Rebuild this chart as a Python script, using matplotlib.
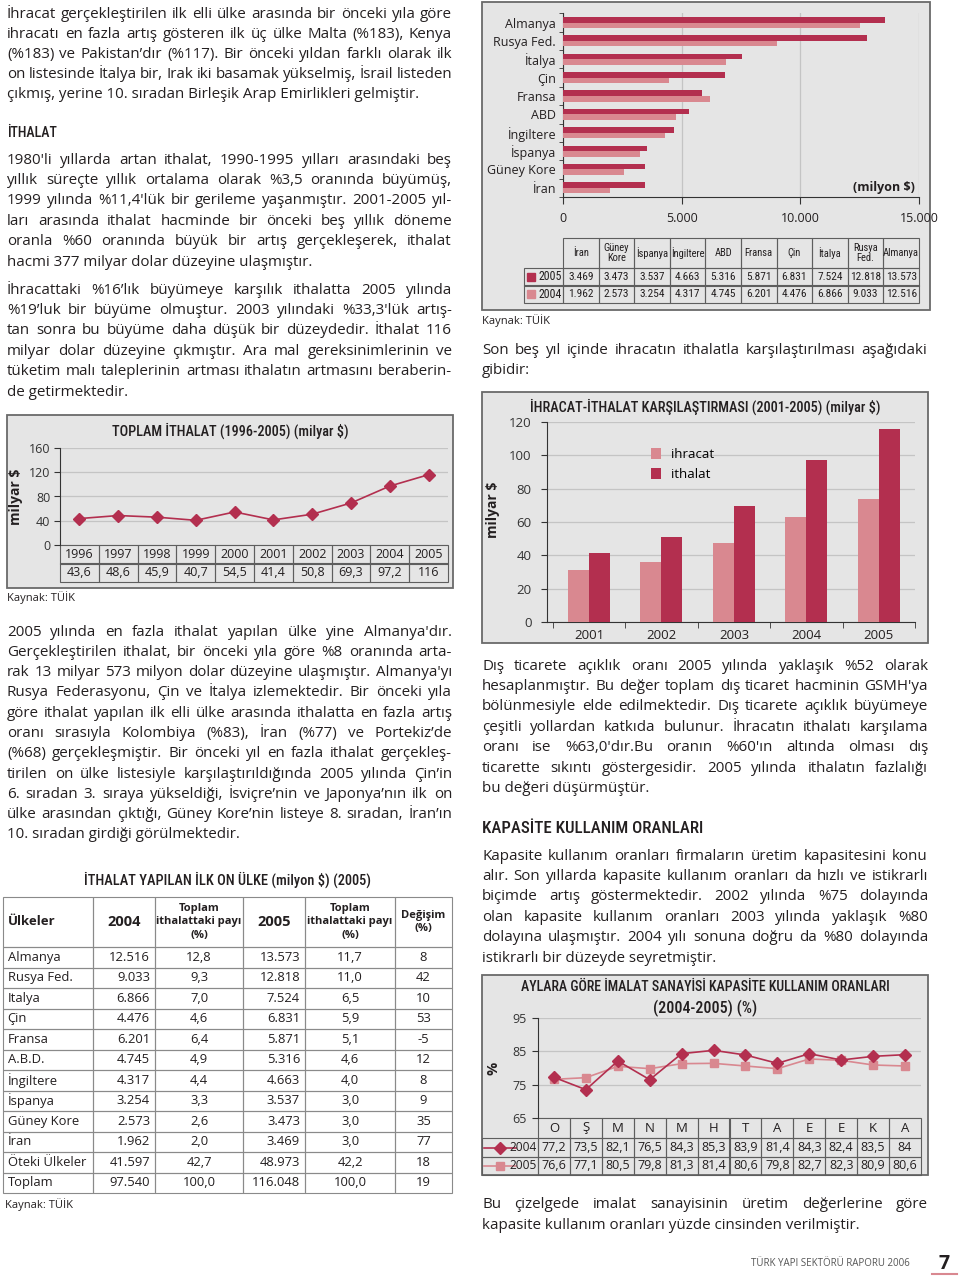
import numpy as np
import matplotlib
matplotlib.use("Agg")
import matplotlib.pyplot as plt
from matplotlib.patches import Rectangle
from matplotlib.font_manager import FontProperties

W, H = 960, 1276
DARK = "#b32f4f"
LIGHT = "#d98890"
BOXBG = "#e5e5e5"
BORDER = "#6a6a6a"
GRID = "#c4c4c4"
INK = "#231f20"
BODY = ["Open Sans", "DejaVu Sans"]
COND = ["Roboto Condensed", "Liberation Sans Narrow", "Roboto", "DejaVu Sans"]

# ---- data ----
years = ["1996", "1997", "1998", "1999", "2000", "2001", "2002", "2003", "2004", "2005"]
total_import = [43.6, 48.6, 45.9, 40.7, 54.5, 41.4, 50.8, 69.3, 97.2, 116]

bar_countries = ["Almanya", "Rusya Fed.", "İtalya", "Çin", "Fransa", "ABD",
                 "İngiltere", "İspanya", "Güney Kore", "İran"]
bar_2005 = [13573, 12818, 7524, 6831, 5871, 5316, 4663, 3537, 3473, 3469]
bar_2004 = [12516, 9033, 6866, 4476, 6201, 4745, 4317, 3254, 2573, 1962]
bar_table_heads = ["İran", "Güney\nKore", "İspanya", "İngiltere", "ABD", "Fransa",
                   "Çin", "İtalya", "Rusya\nFed.", "Almanya"]

cmp_years = ["2001", "2002", "2003", "2004", "2005"]
cmp_export = [31.3, 36.0, 47.3, 63.1, 73.5]
cmp_import = [41.4, 50.8, 69.3, 97.2, 116.0]

months = ["O", "Ş", "M", "N", "M", "H", "T", "A", "E", "E", "K", "A"]
cap_2004 = [77.2, 73.5, 82.1, 76.5, 84.3, 85.3, 83.9, 81.4, 84.3, 82.4, 83.5, 84]
cap_2005 = [76.6, 77.1, 80.5, 79.8, 81.3, 81.4, 80.6, 79.8, 82.7, 82.3, 80.9, 80.6]

tab_countries = ["Almanya", "Rusya Fed.", "Italya", "Çin", "Fransa", "A.B.D.", "İngiltere",
                 "İspanya", "Güney Kore", "İran", "Öteki Ülkeler", "Toplam"]
tab_2004 = [12516, 9033, 6866, 4476, 6201, 4745, 4317, 3254, 2573, 1962, 41597, 97540]
tab_share_2004 = [12.8, 9.3, 7.0, 4.6, 6.4, 4.9, 4.4, 3.3, 2.6, 2.0, 42.7, 100.0]
tab_2005 = [13573, 12818, 7524, 6831, 5871, 5316, 4663, 3537, 3473, 3469, 48973, 116048]
tab_share_2005 = [11.7, 11.0, 6.5, 5.9, 5.1, 4.6, 4.0, 3.0, 3.0, 3.0, 42.2, 100.0]
tab_change = [8, 42, 10, 53, -5, 12, 8, 9, 35, 77, 18, 19]

p1 = ["İhracat gerçekleştirilen ilk elli ülke arasında bir önceki yıla göre",
      "ihracatı en fazla artış gösteren ilk üç ülke Malta (%183), Kenya",
      "(%183) ve Pakistan’dır (%117).  Bir önceki yıldan farklı olarak ilk",
      "on listesinde İtalya bir, Irak iki basamak yükselmiş, İsrail listeden",
      "çıkmış, yerine 10. sıradan Birleşik Arap Emirlikleri gelmiştir."]
p2 = ["1980'li yıllarda artan ithalat, 1990-1995 yılları arasındaki beş",
      "yıllık süreçte yıllık ortalama olarak %3,5 oranında büyümüş,",
      "1999 yılında %11,4'lük bir gerileme yaşanmıştır. 2001-2005 yıl-",
      "ları arasında ithalat hacminde bir önceki beş yıllık döneme",
      "oranla %60 oranında büyük bir artış gerçekleşerek, ithalat",
      "hacmi 377 milyar dolar düzeyine ulaşmıştır."]
p3 = ["İhracattaki %16’lık büyümeye karşılık ithalatta 2005 yılında",
      "%19’luk bir büyüme olmuştur. 2003 yılındaki %33,3'lük artış-",
      "tan sonra bu büyüme daha düşük bir düzeydedir. İthalat 116",
      "milyar dolar düzeyine çıkmıştır. Ara mal gereksinimlerinin ve",
      "tüketim malı taleplerinin artması ithalatın artmasını beraberin-",
      "de getirmektedir."]
p4 = ["2005 yılında en fazla ithalat yapılan ülke yine Almanya'dır.",
      "Gerçekleştirilen ithalat, bir önceki yıla göre %8 oranında arta-",
      "rak 13 milyar 573 milyon dolar düzeyine ulaşmıştır. Almanya'yı",
      "Rusya Federasyonu, Çin ve İtalya izlemektedir. Bir önceki yıla",
      "göre ithalat yapılan ilk elli ülke arasında ithalatta en fazla artış",
      "oranı sırasıyla Kolombiya (%83), İran (%77) ve Portekiz’de",
      "(%68) gerçekleşmiştir. Bir önceki yıl en fazla ithalat gerçekleş-",
      "tirilen on ülke listesiyle karşılaştırıldığında 2005 yılında Çin’in",
      "6. sıradan 3. sıraya yükseldiği, İsviçre’nin ve Japonya’nın ilk on",
      "ülke arasından çıktığı, Güney Kore’nin listeye 8. sıradan, İran’ın",
      "10. sıradan girdiği görülmektedir."]
p5 = ["Son beş yıl içinde ihracatın ithalatla karşılaştırılması aşağıdaki",
      "gibidir:"]
p6 = ["Dış ticarete açıklık oranı 2005 yılında yaklaşık %52 olarak",
      "hesaplanmıştır. Bu değer toplam dış ticaret hacminin GSMH'ya",
      "bölünmesiyle elde edilmektedir. Dış ticarete açıklık büyümeye",
      "çeşitli yollardan katkıda bulunur. İhracatın ithalatı karşılama",
      "oranı ise %63,0'dır.Bu oranın %60'ın altında olması dış",
      "ticarette sıkıntı göstergesidir. 2005 yılında ithalatın fazlalığı",
      "bu değeri düşürmüştür."]
p7 = ["Kapasite kullanım oranları firmaların üretim kapasitesini konu",
      "alır. Son yıllarda kapasite kullanım oranları da hızlı ve istikrarlı",
      "biçimde artış göstermektedir. 2002 yılında %75 dolayında",
      "olan kapasite kullanım oranları 2003 yılında yaklaşık %80",
      "dolayına ulaşmıştır. 2004 yılı sonuna doğru da %80 dolayında",
      "istikrarlı bir düzeyde seyretmiştir."]
p8 = ["Bu çizelgede imalat sanayisinin üretim değerlerine göre",
      "kapasite kullanım oranları yüzde cinsinden verilmiştir."]


def thou(v):
    return f"{v:,}".replace(",", ".")


def dec(v, fmt="{:.1f}"):
    return fmt.format(v).replace(".", ",")


def short(v):
    return f"{v:g}".replace(".", ",")


fig = plt.figure(figsize=(W / 100, H / 100), dpi=100)
page = fig.add_axes([0, 0, 1, 1])
page.set_xlim(0, W)
page.set_ylim(H, 0)
page.axis("off")
renderer = fig.canvas.get_renderer()


def px_axes(x0, y0, x1, y1):
    return fig.add_axes([x0 / W, 1 - y1 / H, (x1 - x0) / W, (y1 - y0) / H])


def measure(s, size, family=BODY, weight="normal"):
    prop = FontProperties(family=family, size=size, weight=weight)
    w, _, _ = renderer.get_text_width_height_descent(s, prop, ismath=False)
    return w


def box(x0, y0, x1, y1, fc=BOXBG):
    page.add_patch(Rectangle((x0, y0), x1 - x0, y1 - y0, facecolor=fc,
                             edgecolor=BORDER, linewidth=1.3))


def fit_text(x, y, s, width, size, family=COND, weight="medium", **kw):
    w = measure(s, size, family, weight)
    size = min(size, size * width / w)
    page.text(x, y, s, fontsize=size, family=family, fontweight=weight,
              color=INK, **kw)


BODY_SIZE = 10.9
MIN_GAP = 2.4


def paragraph(lines, x0, x1, y0, step, size=BODY_SIZE):
    target = x1 - x0
    for i, line in enumerate(lines):
        y = y0 + i * step + 4.5
        words = line.split()
        last = i == len(lines) - 1 or len(words) < 2
        sz = size
        widths = [measure(w, sz) for w in words]
        need = sum(widths) + MIN_GAP * (len(words) - 1)
        if need > target:
            sz = size * (target - MIN_GAP * (len(words) - 1)) / sum(widths)
            widths = [measure(w, sz) for w in words]
        if last:
            page.text(x0, y, line, fontsize=sz, family=BODY, color=INK,
                      va="baseline", ha="left")
            continue
        gap = (target - sum(widths)) / (len(words) - 1)
        x = x0
        for w, wd in zip(words, widths):
            page.text(x, y, w, fontsize=sz, family=BODY, color=INK,
                      va="baseline", ha="left")
            x += wd + gap


paragraph(p1, 7, 452, 13, 20.2)
fit_text(7, 137, "İTHALAT", 50, 14, va="baseline")
paragraph(p2, 7, 452, 159, 20.4)
paragraph(p3, 7, 452, 289, 20.4)
paragraph(p4, 7, 452, 631, 20.3)
paragraph(p5, 482, 927, 349, 20.2)
paragraph(p6, 482, 928, 665, 20.4)
fit_text(482, 833, "KAPASİTE KULLANIM ORANLARI", 221, 14, va="baseline")
paragraph(p7, 482, 928, 855, 20.4)
paragraph(p8, 482, 928, 1204, 20.2)


def style_table(tbl, size, family=BODY, edge="#5e5e5e", lw=0.8):
    tbl.auto_set_font_size(False)
    for (r, c), cell in tbl.get_celld().items():
        cell.set_edgecolor(edge)
        cell.set_linewidth(lw)
        cell.set_facecolor("none")
        t = cell.get_text()
        t.set_fontsize(size)
        t.set_fontfamily(family)
        t.set_color(INK)


def align(cell, loc, pad=0.08):
    cell._loc = loc
    cell.PAD = pad
    cell.get_text().set_horizontalalignment(loc)


def style_ticks(ax):
    for lab in ax.get_xticklabels() + ax.get_yticklabels():
        lab.set_fontfamily(BODY)


# ---- line chart: total import ----
box(7, 415, 453, 588)
fit_text(230, 431, "TOPLAM İTHALAT (1996-2005) (milyar $)", 237, 12,
         ha="center", va="center")
page.text(16, 497, "milyar $", fontsize=10, fontweight="bold", family=BODY,
          color=INK, rotation=90, ha="center", va="center")
ax1 = px_axes(60, 448, 448, 545)
ax1.set_facecolor("none")
x1 = np.arange(len(years))
ax1.plot(x1, total_import, color=DARK, lw=1.2, marker="D", ms=6, zorder=3)
ax1.set_xlim(-0.5, len(years) - 0.5)
ax1.set_ylim(0, 160)
ax1.set_yticks([0, 40, 80, 120, 160])
ax1.set_xticks([])
ax1.yaxis.grid(True, color=GRID, lw=0.9)
ax1.set_axisbelow(True)
for s in ["top", "right", "bottom"]:
    ax1.spines[s].set_visible(False)
ax1.spines["left"].set_color("#333333")
ax1.tick_params(axis="y", labelsize=9, labelcolor="#333333", length=4,
                color="#333333", pad=3)
style_ticks(ax1)
t1 = ax1.table(cellText=[years, [short(v) for v in total_import]],
               bbox=[0, -37 / 97, 1, 37 / 97], cellLoc="center")
style_table(t1, 9)
page.text(7, 598, "Kaynak: TÜİK", fontsize=8, family=BODY, color=INK, va="center")

# ---- horizontal bars: top ten countries ----
box(482, 2, 930, 310)
ax2 = px_axes(563, 13, 919, 197)
ax2.set_facecolor("none")
y2 = np.arange(len(bar_countries))
ax2.barh(y2 - 0.15, bar_2005, height=0.3, color=DARK, zorder=3)
ax2.barh(y2 + 0.15, bar_2004, height=0.3, color=LIGHT, zorder=3)
ax2.set_ylim(len(bar_countries) - 0.5, -0.52)
ax2.set_xlim(0, 15000)
ax2.set_xticks([0, 5000, 10000, 15000])
ax2.set_xticklabels([thou(v) for v in [0, 5000, 10000, 15000]])
ax2.set_yticks(y2)
ax2.set_yticklabels(bar_countries)
ax2.set_yticks(np.arange(-0.5, len(bar_countries)), minor=True)
ax2.xaxis.grid(True, color=GRID, lw=0.9)
ax2.set_axisbelow(True)
for s in ["top", "right"]:
    ax2.spines[s].set_visible(False)
for s in ["left", "bottom"]:
    ax2.spines[s].set_color("#333333")
ax2.tick_params(axis="y", which="major", length=0, pad=5, labelsize=9, labelcolor=INK)
ax2.tick_params(axis="y", which="minor", length=3, color="#333333")
ax2.tick_params(axis="x", length=5, color="#333333", labelsize=9, labelcolor=INK, pad=6)
style_ticks(ax2)
page.text(915, 187, "(milyon $)", fontsize=9, fontweight="bold", family=BODY,
          color=INK, ha="right", va="center")

tax2 = px_axes(524, 238, 919, 303)
tax2.axis("off")
rev = slice(None, None, -1)
cells2 = [[""] + bar_table_heads,
          ["2005"] + [thou(v) for v in bar_2005[rev]],
          ["2004"] + [thou(v) for v in bar_2004[rev]]]
cw2 = np.array([39] + [35.6] * 10)
t2 = tax2.table(cellText=cells2, colWidths=list(cw2 / cw2.sum()), bbox=[0, 0, 1, 1],
                cellLoc="center")
style_table(t2, 8.2, family=COND)
for c in range(len(cw2)):
    t2[0, c].set_height(t2[1, c].get_height() * 30 / 17.5)
    t2[0, c].get_text().set_fontsize(7.6)
    t2[0, c].get_text().set_linespacing(0.95)
t2[0, 0].visible_edges = ""
align(t2[1, 0], "right", 0.04)
align(t2[2, 0], "right", 0.04)
t2[1, 0].get_text().set_fontsize(8.6)
t2[2, 0].get_text().set_fontsize(8.6)
for yc, col in [(1 - 38.75 / 65, DARK), (1 - 56.25 / 65, LIGHT)]:
    tax2.add_patch(Rectangle((0.008, yc - 0.065), 0.02, 0.13, color=col,
                             transform=tax2.transAxes, clip_on=False))
page.text(482, 321, "Kaynak: TÜİK", fontsize=8, family=BODY, color=INK, va="center")

# ---- export/import comparison ----
box(482, 392, 928, 643)
fit_text(705, 407, "İHRACAT-İTHALAT KARŞILAŞTIRMASI (2001-2005) (milyar $)", 350, 12,
         ha="center", va="center")
page.text(493, 510, "milyar $", fontsize=10, fontweight="bold", family=BODY,
          color=INK, rotation=90, ha="center", va="center")
ax3 = px_axes(547, 422, 915, 622)
ax3.set_facecolor("none")
x3 = np.arange(len(cmp_years))
ax3.bar(x3 - 0.145, cmp_export, width=0.29, color=LIGHT, label="ihracat", zorder=3)
ax3.bar(x3 + 0.145, cmp_import, width=0.29, color=DARK, label="ithalat", zorder=3)
ax3.set_xlim(-0.58, len(cmp_years) - 0.5)
ax3.set_ylim(0, 120)
ax3.set_yticks(np.arange(0, 121, 20))
ax3.set_xticks(x3)
ax3.set_xticklabels(cmp_years)
ax3.set_xticks(np.arange(-0.5, len(cmp_years)), minor=True)
ax3.yaxis.grid(True, color=GRID, lw=0.9)
ax3.set_axisbelow(True)
for s in ["top", "right"]:
    ax3.spines[s].set_visible(False)
for s in ["left", "bottom"]:
    ax3.spines[s].set_color("#333333")
ax3.tick_params(axis="x", which="major", length=0, pad=5, labelsize=9.5, labelcolor=INK)
ax3.tick_params(axis="x", which="minor", length=4, color="#333333")
ax3.tick_params(axis="y", length=4, color="#333333", labelsize=9.5, labelcolor="#333333", pad=7)
style_ticks(ax3)
ax3.legend(loc="upper left", bbox_to_anchor=(0.25, 0.93), frameon=False,
           handlelength=0.8, handleheight=0.9, handletextpad=0.7,
           labelspacing=0.55, prop=FontProperties(family=BODY, size=9.5))

# ---- capacity utilisation ----
box(482, 975, 928, 1175)
fit_text(705, 987, "AYLARA GÖRE İMALAT SANAYİSİ KAPASİTE KULLANIM ORANLARI", 372, 12,
         ha="center", va="center")
fit_text(705, 1008, "(2004-2005) (%)", 104, 12, ha="center", va="center")
page.text(493, 1068, "%", fontsize=10.5, fontweight="bold", family=BODY, color=INK,
          rotation=90, ha="center", va="center")
ax4 = px_axes(538, 1018, 921, 1118)
ax4.set_facecolor("none")
x4 = np.arange(len(months))
ax4.plot(x4, cap_2005, color=LIGHT, lw=1.2, marker="s", ms=6, zorder=3)
ax4.plot(x4, cap_2004, color=DARK, lw=1.2, marker="D", ms=6, zorder=4)
ax4.set_xlim(-0.5, len(months) - 0.5)
ax4.set_ylim(65, 95)
ax4.set_yticks([65, 75, 85, 95])
ax4.set_xticks([])
ax4.yaxis.grid(True, color=GRID, lw=0.9)
ax4.set_axisbelow(True)
for s in ["top", "right", "bottom"]:
    ax4.spines[s].set_visible(False)
ax4.spines["left"].set_color("#333333")
ax4.tick_params(axis="y", labelsize=9, labelcolor="#333333", length=4,
                color="#333333", pad=4)
style_ticks(ax4)
cells4 = [[""] + months,
          ["2004"] + [short(v) for v in cap_2004],
          ["2005"] + [short(v) for v in cap_2005]]
cw4 = np.array([56] + [383 / 12] * 12)
t4 = ax4.table(cellText=cells4, colWidths=list(cw4 / cw4.sum()),
               bbox=[-56 / 383, -57 / 100, 1 + 56 / 383, 57 / 100], cellLoc="center")
style_table(t4, 9)
for c in range(len(cw4)):
    t4[0, c].set_height(t4[1, c].get_height() * 20 / 18.5)
    t4[0, c].get_text().set_fontsize(9.5)
t4[0, 0].visible_edges = ""
for r in (1, 2):
    align(t4[r, 0], "right", 0.03)
    t4[r, 0].get_text().set_fontsize(8.6)
page.plot([484, 500, 516], [1147.5] * 3, color=DARK, lw=1.2, marker="D", ms=6,
          markevery=[1])
page.plot([484, 500, 516], [1166] * 3, color=LIGHT, lw=1.2, marker="s", ms=6,
          markevery=[1])

# ---- table: top ten import countries ----
fit_text(227, 880, "İTHALAT YAPILAN İLK ON ÜLKE (milyon $) (2005)", 286, 12,
         ha="center", va="center")
tax5 = px_axes(3, 897, 452, 1193)
tax5.axis("off")
header5 = ["Ülkeler", "2004", "Toplam\nithalattaki payı\n(%)", "2005",
           "Toplam\nithalattaki payı\n(%)", "Değişim\n(%)"]
rows5 = [[c, thou(a), dec(b), thou(d), dec(e), str(f)]
         for c, a, b, d, e, f in zip(tab_countries, tab_2004, tab_share_2004,
                                     tab_2005, tab_share_2005, tab_change)]
cw5 = np.array([90, 62, 88, 62, 90, 57])
t5 = tax5.table(cellText=[header5] + rows5, colWidths=list(cw5 / cw5.sum()),
                bbox=[0, 0, 1, 1], cellLoc="center")
style_table(t5, 9.4, edge="#8a8a8a")
for c in range(len(cw5)):
    t5[0, c].set_height(t5[1, c].get_height() * 50 / 20.5)
    t5[0, c].get_text().set_fontweight("bold")
    t5[0, c].get_text().set_fontsize(8)
    t5[0, c].get_text().set_linespacing(1.3)
t5[0, 1].get_text().set_fontsize(10.5)
t5[0, 3].get_text().set_fontsize(10.5)
t5[0, 0].get_text().set_fontsize(9.5)
align(t5[0, 0], "left", 0.05)
for r in range(1, len(rows5) + 1):
    align(t5[r, 0], "left", 0.05)
    align(t5[r, 1], "right", 0.08)
    align(t5[r, 3], "right", 0.08)
page.text(5, 1205, "Kaynak: TÜİK", fontsize=8, family=BODY, color=INK, va="center")

# ---- footer ----
page.text(910, 1264, "TÜRK YAPI SEKTÖRÜ RAPORU 2006", fontsize=7, family=BODY,
          color="#555555", ha="right", va="center")
page.text(944, 1264, "7", fontsize=14, fontweight="bold", family=BODY, color=INK,
          ha="center", va="center")
page.plot([932, 957], [1274, 1274], color=LIGHT, lw=1.5)

fig.savefig("out.png", dpi=100)
